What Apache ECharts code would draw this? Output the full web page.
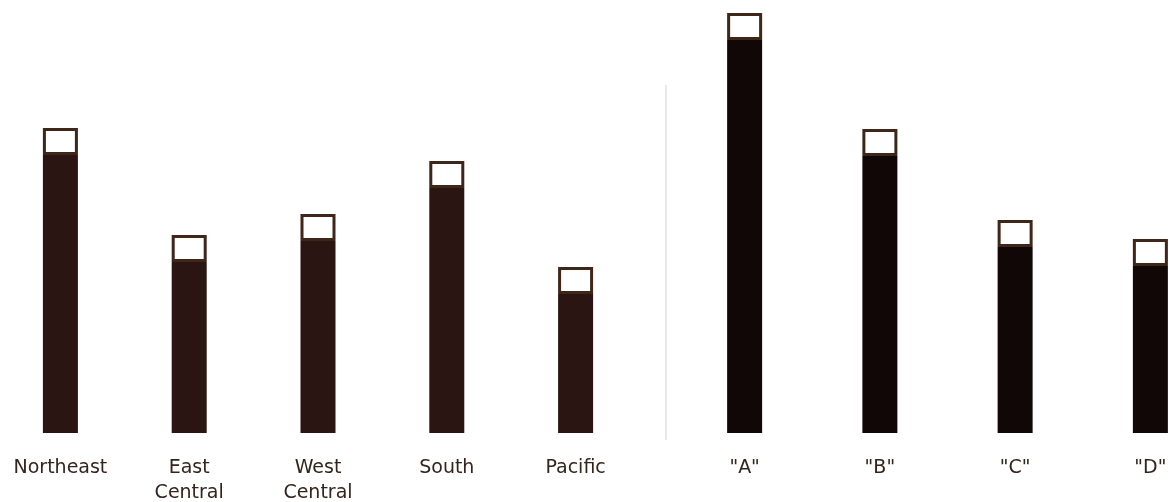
<!DOCTYPE html>
<html><head><meta charset="utf-8">
<script src="https://cdn.jsdelivr.net/npm/echarts@6/dist/echarts.min.js"></script>
<style>html,body{margin:0;padding:0;background:#fff}#c{width:1169px;height:502px}</style>
</head><body><div id="c"></div>
<script>
const regions = ['Northeast', 'East\nCentral', 'West\nCentral', 'South', 'Pacific'];
const regionValues = [278, 171, 192, 245, 139];
const regionCaps = [27, 27, 27, 27, 27];
const brands = ['"A"', '"B"', '"C"', '"D"'];
const brandValues = [393, 277, 186, 167];
const brandCaps = [27, 27, 27, 27];

const chart = echarts.init(document.getElementById('c'));
const labelStyle = {color: '#33241c', fontFamily: '"DejaVu Sans", sans-serif', fontSize: 19, lineHeight: 25, margin: 23, interval: 0};
function xa(idx, data) {
  return {type: 'category', gridIndex: idx, data: data, axisLine: {show: false}, axisTick: {show: false}, axisLabel: labelStyle};
}
function ya(idx) {
  return {type: 'value', gridIndex: idx, min: 0, max: 420, show: false, splitLine: {show: false}};
}
function series(idx, vals, caps, color) {
  return [
    {type: 'bar', xAxisIndex: idx, yAxisIndex: idx, stack: 's' + idx, data: vals, barWidth: 35, itemStyle: {color: color}, animation: false},
    {type: 'bar', xAxisIndex: idx, yAxisIndex: idx, stack: 's' + idx, data: caps, barWidth: 35, itemStyle: {color: '#ffffff', borderColor: '#3e2618', borderWidth: 3}, animation: false}
  ];
}
chart.setOption({
  animation: false,
  grid: [
    {left: -4, width: 644, top: 13, bottom: 69, outerBoundsMode: 'none', containLabel: false},
    {left: 677, width: 541, top: 13, bottom: 69, outerBoundsMode: 'none', containLabel: false}
  ],
  xAxis: [xa(0, regions), xa(1, brands)],
  yAxis: [ya(0), ya(1)],
  series: [].concat(series(0, regionValues, regionCaps, '#2a1512'), series(1, brandValues, brandCaps, '#120707')),
  graphic: [{type: 'line', shape: {x1: 666, y1: 85, x2: 666, y2: 440}, style: {stroke: '#d6d2cc', lineWidth: 1}}]
});
</script></body></html>
